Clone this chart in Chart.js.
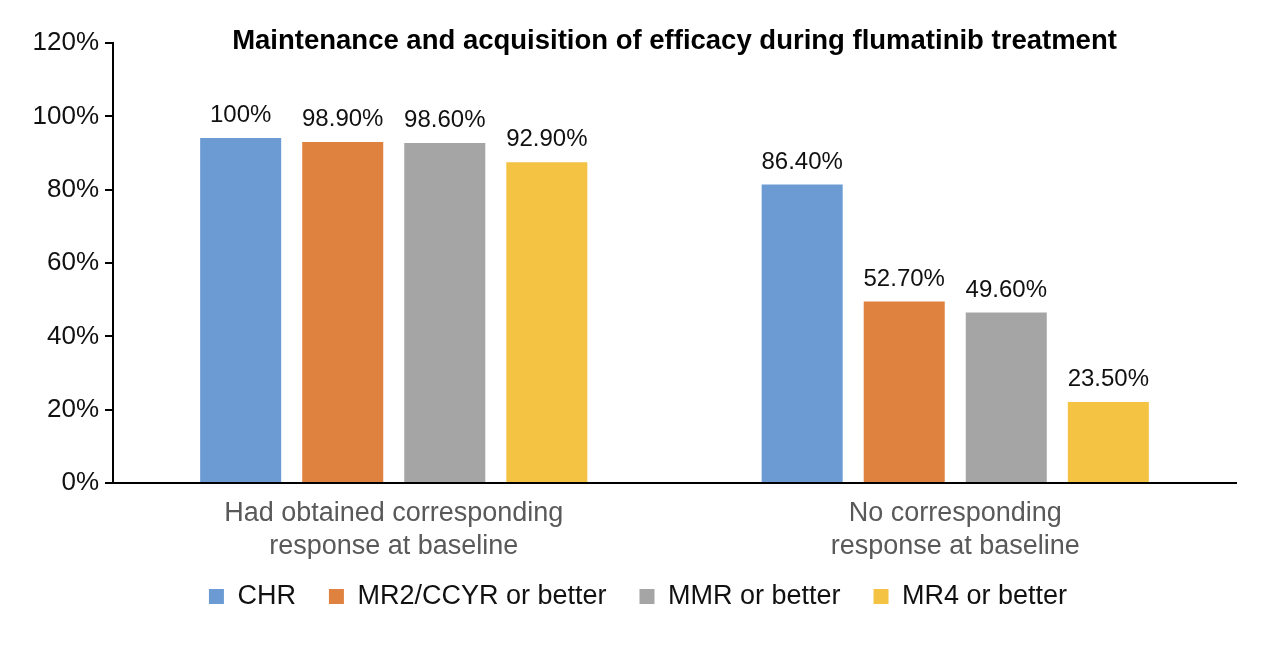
<!DOCTYPE html>
<html lang="en">
<head>
    <meta charset="UTF-8">
    <title>Maintenance and acquisition of efficacy during flumatinib treatment</title>
    <script src="https://cdn.jsdelivr.net/npm/chart.js"></script>
    <style>
        html, body { margin: 0; padding: 0; background: #fff; }
        #wrap { width: 1265px; height: 646px; }
    </style>
</head>
<body>
    <div id="wrap"><canvas id="effChart" width="1265" height="646"></canvas></div>

    <script>
        // data
        const titleText = 'Maintenance and acquisition of efficacy during flumatinib treatment';
        const categories = [
            ['Had obtained corresponding', 'response at baseline'],
            ['No corresponding', 'response at baseline']
        ];
        const seriesNames = ['CHR', 'MR2/CCYR or better', 'MMR or better', 'MR4 or better'];
        // bar heights as drawn (%)
        const chrValues = [94.1, 81.4];
        const mr2Values = [93.0, 49.5];
        const mmrValues = [92.7, 46.5];
        const mr4Values = [87.5, 22.1];
        // value labels as printed above the bars
        const chrLabels = ['100%', '86.40%'];
        const mr2Labels = ['98.90%', '52.70%'];
        const mmrLabels = ['98.60%', '49.60%'];
        const mr4Labels = ['92.90%', '23.50%'];
        const yTicks = [0, 20, 40, 60, 80, 100, 120];

        const colors = ['#6B9BD2', '#E0823F', '#A5A5A5', '#F4C343'];
        const fontFamily = 'Arial, "Liberation Sans", Helvetica, sans-serif';

        // draws the value text above each bar
        const valueLabels = {
            id: 'valueLabels',
            afterDatasetsDraw(chart) {
                const ctx = chart.ctx;
                ctx.save();
                ctx.font = '24px ' + fontFamily;
                ctx.fillStyle = '#111';
                ctx.textAlign = 'center';
                ctx.textBaseline = 'alphabetic';
                chart.data.datasets.forEach((ds, i) => {
                    chart.getDatasetMeta(i).data.forEach((bar, j) => {
                        ctx.fillText(ds.valueText[j], bar.x, bar.y - 16);
                    });
                });
                ctx.restore();
            }
        };

        // title sits inside the plot, level with the top tick
        const innerTitle = {
            id: 'innerTitle',
            afterDraw(chart) {
                const ctx = chart.ctx;
                const area = chart.chartArea;
                ctx.save();
                ctx.font = 'bold 27.5px ' + fontFamily;
                ctx.fillStyle = '#000';
                ctx.textAlign = 'center';
                ctx.textBaseline = 'alphabetic';
                ctx.fillText(titleText, (area.left + area.right) / 2, area.top + 6);
                ctx.restore();
            }
        };

        // the legend in the reference sits a little right of centre and
        // closer to the axis labels than chart.js would put it
        const legendShift = {
            id: 'legendShift',
            afterLayout(chart) {
                chart.legend.left += 20;
                chart.legend.right += 20;
                chart.legend.top -= 9;
                chart.legend.bottom -= 9;
            }
        };

        const ctxEff = document.getElementById('effChart').getContext('2d');
        const effChart = new Chart(ctxEff, {
            type: 'bar',
            data: {
                labels: categories,
                datasets: [
                    { label: seriesNames[0], data: chrValues, valueText: chrLabels, backgroundColor: colors[0] },
                    { label: seriesNames[1], data: mr2Values, valueText: mr2Labels, backgroundColor: colors[1] },
                    { label: seriesNames[2], data: mmrValues, valueText: mmrLabels, backgroundColor: colors[2] },
                    { label: seriesNames[3], data: mr4Values, valueText: mr4Labels, backgroundColor: colors[3] }
                ]
            },
            options: {
                responsive: false,
                animation: false,
                categoryPercentage: 0.727,
                barPercentage: 0.794,
                layout: { padding: { top: 43, right: 29, bottom: 17, left: 0 } },
                plugins: {
                    legend: {
                        position: 'bottom',
                        labels: {
                            font: { size: 27, family: fontFamily },
                            color: '#111',
                            boxWidth: 15,
                            boxHeight: 15,
                            padding: 33
                        }
                    },
                    tooltip: { enabled: false }
                },
                scales: {
                    x: {
                        grid: { display: false, drawTicks: false },
                        border: { display: true, color: '#000', width: 2 },
                        ticks: {
                            font: { size: 27, family: fontFamily, lineHeight: 1.22 },
                            color: '#595959',
                            padding: 14,
                            maxRotation: 0
                        },
                        afterFit(scale) { scale.height = 76; }
                    },
                    y: {
                        min: 0,
                        max: 120,
                        afterBuildTicks(scale) { scale.ticks = yTicks.map(v => ({ value: v })); },
                        grid: {
                            drawOnChartArea: false,
                            drawTicks: true,
                            tickLength: 8,
                            color: '#000',
                            lineWidth: 2
                        },
                        border: { display: true, color: '#000', width: 2 },
                        ticks: {
                            font: { size: 26, family: fontFamily },
                            color: '#111',
                            padding: 6,
                            callback: v => v + '%'
                        },
                        afterFit(scale) { scale.width = 113; }
                    }
                }
            },
            plugins: [valueLabels, innerTitle, legendShift]
        });
    </script>
</body>
</html>
